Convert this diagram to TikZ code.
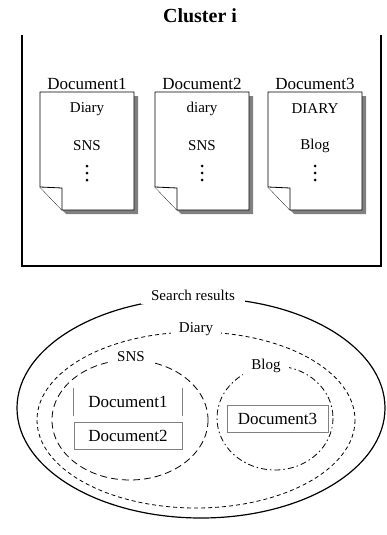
\documentclass[tikz,border=0pt]{standalone}
\usepackage{fontspec}
\setmainfont{Liberation Serif}
\usetikzlibrary{positioning}

\begin{document}
\begin{tikzpicture}[x=1pt, y=-1pt, line width=0.8pt]
\tikzstyle{every node} = [inner sep=1pt, font=\fontsize{15}{17}\selectfont]
\tikzstyle{setlabel} = [fill=white, inner xsep=8pt, inner ysep=4pt]
\tikzstyle{resbox} = [draw=gray, line width=1pt, inner sep=0pt, minimum width=108, minimum height=27, font=\fontsize{17}{19}\selectfont]
\useasboundingbox (0,0) rectangle (386,535);
% cluster
\node[font=\fontsize{20}{22}\selectfont\bfseries] (title) at (200,16) {Cluster i};
\draw[line width=1.2pt] (22,35) -- (22,266) -- (381,266) -- (381,35);
\foreach \x/\n/\a/\b in {40/1/Diary/SNS, 155/2/diary/SNS, 268/3/DIARY/Blog} {
  \fill[gray] (\x+4,96) -- (\x+98,96) -- (\x+98,214) -- (\x+26,214) -- (\x+4,191) -- cycle;
  \draw[fill=white] (\x,92) -- (\x+94,92) -- (\x+94,210) -- (\x+22,210) -- (\x,187) -- cycle;
  \draw[fill=white] (\x,187) -- (\x+22,188) -- (\x+22,210);
  \node[anchor=base, font=\fontsize{17}{19}\selectfont] (doc\n) at (\x+47,89) {Document\n};
  \node (top\n) at (\x+47,109) {\a};
  \node (mid\n) at (\x+47,146) {\b};
  \foreach \y in {166,173,180} \fill (\x+47,\y) circle (1.5);
}
% search results
\draw[line width=1.2pt] (201,408) ellipse (184 and 110);
\node[setlabel, inner xsep=10pt] (res) at (193,295) {Search results};
\draw[dash pattern=on 4pt off 3pt] (196,420) ellipse (159 and 88);
\node[setlabel] (diary) at (196,329) {Diary};
\draw[dash pattern=on 7pt off 4pt] (130,420) ellipse (78 and 60);
\node[setlabel] (sns) at (131,357) {SNS};
\draw[dash pattern=on 6pt off 3pt on 1.5pt off 3pt] (275,418) ellipse (58 and 52);
\node[setlabel] (blog) at (266,366) {Blog};
\node[resbox, draw=none] (r1) at (128,401.5) {Document1};
\draw[gray, line width=1pt] (r1.north west) -- (r1.south west) (r1.north east) -- (r1.south east);
\node[resbox] (r2) at (128,436) {Document2};
\node[resbox, minimum width=101] (r3) at (277.5,419) {Document3};
\end{tikzpicture}
\end{document}
